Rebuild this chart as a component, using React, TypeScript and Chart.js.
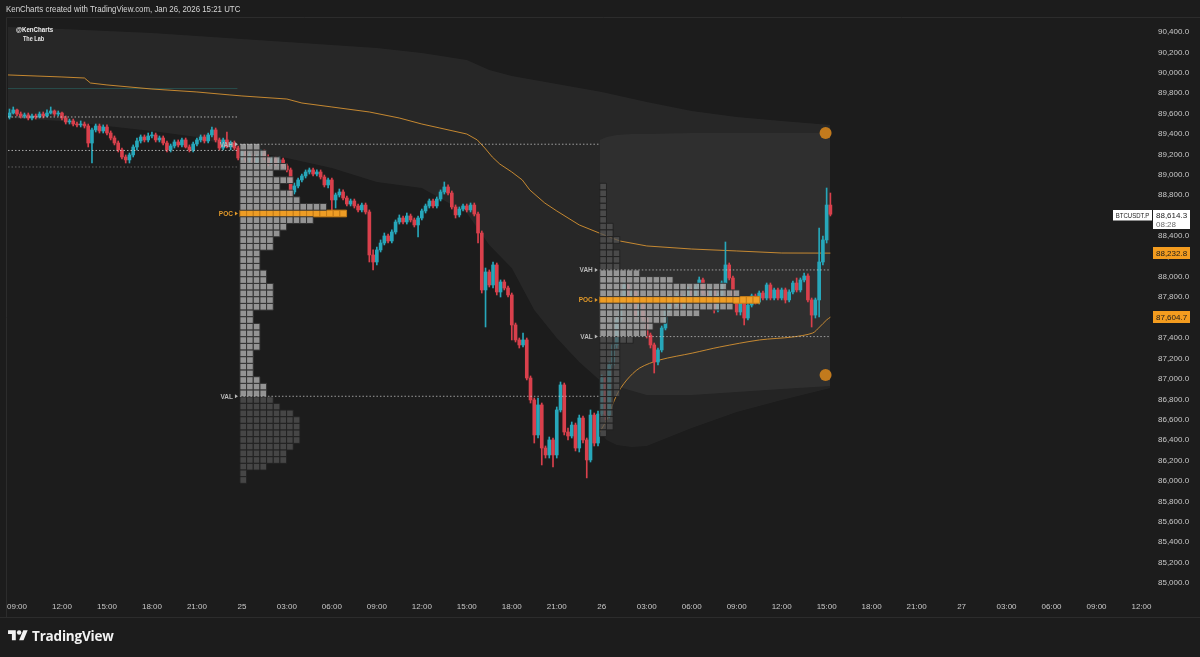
import React, { useEffect, useRef } from "react";
import { Chart, registerables } from "chart.js";

Chart.register(...registerables);

// ---------- axes (time in hours since Jan 24 2026 09:00 UTC) ----------
const X_MIN = -0.6;
const X_MAX = 75.7;
const xTickValues = [0, 3, 6, 9, 12, 15, 18, 21, 24, 27, 30, 33, 36, 39, 42, 45, 48, 51, 54, 57, 60, 63, 66, 69, 72, 75];
const xTickLabels = ["09:00", "12:00", "15:00", "18:00", "21:00", "25", "03:00", "06:00", "09:00", "12:00", "15:00", "18:00", "21:00", "26", "03:00", "06:00", "09:00", "12:00", "15:00", "18:00", "21:00", "27", "03:00", "06:00", "09:00", "12:00"];

const Y_MIN = 84863;
const Y_MAX = 90537;
const yTickValues = [85000, 85200, 85400, 85600, 85800, 86000, 86200, 86400, 86600, 86800, 87000, 87200, 87400, 87600, 87800, 88000, 88200, 88400, 88600, 88800, 89000, 89200, 89400, 89600, 89800, 90000, 90200, 90400];

// ---------- 15-minute candles ----------
const CANDLE_START = -0.5;
const CANDLE_STEP = 0.25;
const FIRST_OPEN = 89567;
const closes = [
  89606, 89636, 89596, 89577, 89587, 89557, 89577, 89567, 89596, 89577,
  89606, 89626, 89596, 89606, 89557, 89518, 89528, 89498, 89489, 89498,
  89479, 89312, 89440, 89479, 89430, 89469, 89410, 89361, 89312, 89244,
  89175, 89146, 89195, 89273, 89332, 89371, 89342, 89381, 89391, 89342,
  89361, 89312, 89244, 89283, 89322, 89293, 89342, 89273, 89244, 89302,
  89342, 89371, 89332, 89391, 89440, 89342, 89263, 89342, 89273, 89312,
  89263, 89165, 89224, 89146, 89195, 89126, 89175, 89214, 89165, 89116,
  89155, 89106, 89146, 89087, 89048, 88832, 88891, 88950, 88989, 89028,
  89048, 89008, 89028, 88979, 88901, 88950, 88754, 88803, 88832, 88773,
  88714, 88744, 88695, 88656, 88704, 88636, 88215, 88146, 88264, 88332,
  88401, 88352, 88440, 88538, 88577, 88538, 88597, 88558, 88509, 88577,
  88646, 88695, 88744, 88695, 88763, 88832, 88881, 88822, 88685, 88607,
  88665, 88695, 88656, 88704, 88616, 88430, 87872, 88048, 87921, 88117,
  87852, 87950, 87891, 87823, 87529, 87382, 87333, 87382, 87009, 86794,
  86451, 86745, 86323, 86255, 86402, 86255, 86696, 86941, 86480, 86441,
  86548, 86323, 86617, 86402, 86206, 86646, 86372, 86656, 87009, 86646,
  87137, 87333, 87578, 87774, 87921, 87774, 87852, 87626, 87724, 87597,
  87430, 87333, 87166, 87284, 87499, 87676, 87793, 87724, 87813, 87695,
  87803, 87872, 87793, 87901, 87970, 87842, 87793, 87872, 87676, 87823,
  87940, 88117, 87989, 87774, 87656, 87744, 87597, 87724, 87813, 87754,
  87842, 87793, 87921, 87793, 87872, 87793, 87872, 87774, 87852, 87940,
  87872, 87970, 88009, 87774, 87626, 87774, 88146, 88362, 88704, 88614,
];
const highs = [
  89645, 89665, 89645, 89616, 89606, 89606, 89596, 89596, 89616, 89616,
  89636, 89665, 89636, 89626, 89616, 89577, 89547, 89547, 89518, 89528,
  89518, 89498, 89459, 89498, 89498, 89489, 89489, 89430, 89381, 89332,
  89263, 89195, 89214, 89293, 89361, 89391, 89391, 89410, 89420, 89410,
  89381, 89381, 89332, 89302, 89342, 89342, 89361, 89361, 89293, 89322,
  89361, 89391, 89391, 89410, 89469, 89459, 89361, 89361, 89420, 89332,
  89332, 89283, 89244, 89244, 89214, 89214, 89195, 89244, 89244, 89195,
  89175, 89175, 89175, 89165, 89106, 89067, 88920, 88969, 89008, 89048,
  89067, 89067, 89048, 89048, 88998, 88969, 88969, 88822, 88861, 88852,
  88793, 88763, 88763, 88714, 88724, 88724, 88656, 88264, 88293, 88362,
  88430, 88420, 88460, 88558, 88607, 88597, 88626, 88616, 88577, 88597,
  88665, 88714, 88763, 88763, 88783, 88852, 88930, 88901, 88842, 88705,
  88685, 88714, 88714, 88724, 88724, 88636, 88450, 88087, 88068, 88146,
  88136, 87970, 87970, 87911, 87842, 87548, 87401, 87450, 87401, 87029,
  86813, 86813, 86764, 86343, 86431, 86421, 86725, 86970, 86960, 86519,
  86578, 86568, 86646, 86637, 86421, 86696, 86666, 86686, 87039, 87029,
  87166, 87362, 87607, 87842, 87950, 87940, 87872, 87872, 87754, 87744,
  87617, 87450, 87352, 87303, 87519, 87695, 87823, 87813, 87842, 87832,
  87823, 87901, 87891, 87921, 87999, 87989, 87862, 87891, 87891, 87842,
  87960, 88342, 88136, 88009, 87793, 87774, 87764, 87754, 87832, 87832,
  87862, 87862, 87940, 87940, 87891, 87891, 87891, 87891, 87872, 87960,
  87989, 87989, 88038, 88029, 87793, 87793, 88479, 88401, 88871, 88822,
];
const lows = [
  89547, 89596, 89577, 89557, 89557, 89538, 89538, 89547, 89557, 89557,
  89567, 89596, 89577, 89577, 89538, 89498, 89498, 89479, 89469, 89469,
  89459, 89273, 89116, 89420, 89410, 89410, 89391, 89342, 89293, 89224,
  89155, 89116, 89116, 89175, 89244, 89312, 89322, 89322, 89361, 89322,
  89322, 89293, 89224, 89224, 89263, 89273, 89273, 89263, 89224, 89224,
  89283, 89322, 89312, 89312, 89371, 89322, 89244, 89244, 89263, 89244,
  89244, 89146, 89146, 89126, 89126, 89106, 89106, 89155, 89146, 89087,
  89097, 89087, 89087, 89067, 89028, 88783, 88812, 88871, 88930, 88969,
  89008, 88989, 88989, 88959, 88881, 88871, 88616, 88675, 88783, 88754,
  88695, 88695, 88675, 88636, 88636, 88616, 88146, 88068, 88117, 88244,
  88313, 88332, 88332, 88420, 88518, 88518, 88518, 88538, 88489, 88391,
  88558, 88626, 88675, 88675, 88675, 88744, 88812, 88803, 88665, 88577,
  88587, 88646, 88636, 88636, 88597, 88332, 87842, 87509, 87901, 87891,
  87823, 87803, 87872, 87803, 87382, 87362, 87303, 87313, 86990, 86764,
  86372, 86421, 86157, 86225, 86225, 86137, 86225, 86676, 86451, 86402,
  86421, 86294, 86284, 86372, 86030, 86186, 86343, 86343, 86627, 86598,
  86617, 87107, 87303, 87548, 87744, 87744, 87754, 87597, 87597, 87568,
  87401, 87303, 87058, 87137, 87264, 87480, 87656, 87695, 87705, 87676,
  87676, 87783, 87774, 87774, 87881, 87823, 87774, 87774, 87646, 87656,
  87803, 87921, 87970, 87754, 87626, 87626, 87529, 87578, 87705, 87734,
  87734, 87774, 87774, 87774, 87774, 87774, 87774, 87744, 87754, 87832,
  87852, 87852, 87950, 87754, 87509, 87597, 87607, 88117, 88332, 88597,
];

// ---------- anchored VWAPs ----------
const vwap1Times = [-0.6, 3, 4.5, 4.9, 6, 9, 12, 14.2, 15, 18, 19, 21, 23.5, 25.5, 27, 28.2, 30, 30.7, 31.2, 31.7, 32.2, 33, 33.7, 34.2, 35.2, 36, 37.5, 39, 40.2, 42, 45, 48, 51, 54.25];
const vwap1Values = [89979, 89959, 89949, 89900, 89881, 89841, 89812, 89783, 89773, 89743, 89704, 89665, 89616, 89557, 89498, 89459, 89400, 89342, 89263, 89175, 89106, 89028, 88950, 88852, 88724, 88646, 88509, 88420, 88352, 88303, 88273, 88254, 88234, 88233];
const vwap2Times = [38.87, 39.33, 40, 40.67, 41.53, 42.87, 45.07, 46.87, 49.53, 51.73, 53.07, 53.53, 54, 54.25];
const vwap2Values = [86480, 86598, 86843, 86990, 87107, 87186, 87254, 87313, 87382, 87411, 87450, 87509, 87578, 87605];

// ---------- deviation bands ----------
const band1Times = [-0.6, 3, 6, 9, 12, 15, 18, 21, 24, 27, 30, 31.5, 33, 34.5, 36, 37.5, 39, 42, 45, 48, 51, 54.25];
const band1Upper = [90449, 90429, 90410, 90390, 90361, 90331, 90302, 90273, 90243, 90194, 90126, 90028, 89969, 89930, 89890, 89851, 89812, 89714, 89626, 89567, 89528, 89489];
const band1Lower = [89557, 89528, 89479, 89430, 89371, 89244, 89165, 89067, 88930, 88871, 88626, 88313, 88087, 87676, 87401, 87166, 86970, 86843, 86843, 86872, 86902, 86931];
const band2Times = [38.87, 39.33, 40, 41, 42, 45, 48, 51, 54.25];
const band2Upper = [89342, 89371, 89391, 89400, 89400, 89410, 89410, 89410, 89410];
const band2Lower = [86480, 86402, 86353, 86333, 86343, 86519, 86676, 86794, 86912];

// ---------- volume profiles (cells per row, top row first) ----------
const profile1Counts = [3, 4, 6, 7, 5, 8, 6, 8, 9, 13, 16, 11, 7, 6, 5, 5, 3, 3, 3, 4, 4, 5, 5, 5, 5, 2, 2, 3, 3, 3, 3, 2, 2, 2, 2, 3, 4, 4, 5, 6, 8, 9, 9, 9, 9, 8, 7, 7, 4, 1, 1];
const profile2Counts = [1, 1, 1, 1, 1, 1, 2, 2, 3, 2, 3, 3, 3, 6, 11, 19, 21, 24, 20, 15, 10, 8, 7, 5, 3, 3, 3, 3, 3, 3, 3, 3, 2, 2, 2, 2, 2, 1];
const profileStarts = [14.87, 38.87];
const profileTops = [89307, 88917];
const PROFILE_ROW = 65.3;
const profileVaFirst = [0, 13];
const profileVaLast = [37, 22];
const profilePocRow = [10, 17];
const profileLabelTexts = ["VAH", "POC", "VAL", "VAH", "POC", "VAL"];
const profileLabelPrices = [89300, 88621, 86830, 88068, 87774, 87415];
const profileLabelOwner = [0, 0, 0, 1, 1, 1];

// ---------- horizontal levels ----------
const levelPrices = [89567, 89239, 89077, 89300, 86830, 88068, 87415];
const levelStarts = [-0.6, -0.6, -0.6, 14.87, 14.87, 38.87, 38.87];
const levelEnds = [14.75, 14.75, 14.75, 38.87, 38.87, 54.25, 54.25];
const tealLevelPrice = 89846;
const tealLevelSpan = [-0.6, 14.7];

// ---------- markers and tags ----------
const markerTimes = [53.93, 53.93];
const markerPrices = [89410, 87039];
const SYMBOL = "BTCUSDT.P";
const LAST_PRICE = 88614.3;
const COUNTDOWN = "08:28";
const vwapTagValues = [88232.8, 87604.7];

// ---------- styles ----------
const BG = "#1c1c1c";
const UP = "#27a7ba";
const DOWN = "#d9404c";
const ORANGE_LINE = "rgba(214,146,50,0.9)";
const AXIS_TEXT = "#c8c8c8";
const levelColors = ["rgba(215,215,215,0.75)", "rgba(215,215,215,0.75)", "rgba(150,150,150,0.55)", "rgba(210,210,210,0.7)", "rgba(210,210,210,0.7)", "rgba(210,210,210,0.7)", "rgba(210,210,210,0.7)"];
const CELL_HOURS = 0.4444;
const CELL_RADIUS = 4.72;

const fmt = (v: number) => v.toLocaleString("en-US", { minimumFractionDigits: 1, maximumFractionDigits: 1 });

function buildCells(pi: number, counts: number[]) {
  const light: any[] = [];
  const dark: any[] = [];
  const poc: any[] = [];
  counts.forEach((n, r) => {
    const y = profileTops[pi] - (r + 0.5) * PROFILE_ROW;
    for (let k = 0; k < n; k++) {
      const pt = { x: profileStarts[pi] + (k + 0.5) * CELL_HOURS, y };
      if (r === profilePocRow[pi]) poc.push(pt);
      else if (r >= profileVaFirst[pi] && r <= profileVaLast[pi]) light.push(pt);
      else dark.push(pt);
    }
  });
  return { light, dark, poc };
}

const overlayPlugin = {
  id: "overlay",
  afterDraw(chart: any) {
    const { ctx, chartArea } = chart;
    const xs = chart.scales.x;
    const ys = chart.scales.y;
    ctx.save();
    // frame lines
    ctx.strokeStyle = "#2c2c2c";
    ctx.lineWidth = 1;
    ctx.beginPath();
    ctx.moveTo(6.5, 17.5);
    ctx.lineTo(1200, 17.5);
    ctx.moveTo(6.5, 17.5);
    ctx.lineTo(6.5, 617.5);
    ctx.moveTo(0, 617.5);
    ctx.lineTo(1200, 617.5);
    ctx.stroke();

    // profile labels
    ctx.font = "bold 6.5px 'Liberation Sans', Arial, sans-serif";
    ctx.textBaseline = "middle";
    ctx.textAlign = "right";
    profileLabelTexts.forEach((t, i) => {
      const xr = xs.getPixelForValue(profileStarts[profileLabelOwner[i]]) - 2;
      const y = ys.getPixelForValue(profileLabelPrices[i]);
      const col = t === "POC" ? "#e39a2a" : "#b9b9b9";
      ctx.fillStyle = col;
      ctx.fillText(t, xr - 5, y + 0.5);
      ctx.beginPath();
      ctx.moveTo(xr - 3, y - 2);
      ctx.lineTo(xr, y);
      ctx.lineTo(xr - 3, y + 2);
      ctx.closePath();
      ctx.fill();
    });

    // right price scale tags
    const axL = chartArea.right + 1;
    ctx.textAlign = "left";
    ctx.font = "8px 'Liberation Sans', Arial, sans-serif";
    vwapTagValues.forEach((v) => {
      const y = ys.getPixelForValue(v);
      ctx.fillStyle = "#f39c1f";
      ctx.fillRect(axL, Math.round(y) - 6, 37, 12);
      ctx.fillStyle = "#1b1b1b";
      ctx.fillText(fmt(v), axL + 3, y + 0.5);
    });
    const yl = ys.getPixelForValue(LAST_PRICE);
    ctx.fillStyle = "#ffffff";
    ctx.fillRect(axL, Math.round(yl) - 4, 37, 19);
    ctx.fillRect(chartArea.right - 39, Math.round(yl) - 4, 39, 10.5);
    ctx.fillStyle = "#1b1b1b";
    ctx.fillText(fmt(LAST_PRICE), axL + 3, yl + 1.5);
    ctx.fillStyle = "#6b6b6b";
    ctx.fillText(COUNTDOWN, axL + 3, yl + 10.5);
    ctx.fillStyle = "#1b1b1b";
    ctx.font = "7.5px 'Liberation Sans', Arial, sans-serif";
    ctx.textAlign = "center";
    ctx.translate(chartArea.right - 19.5, yl + 1.5);
    ctx.scale(0.8, 1);
    ctx.fillText(SYMBOL, 0, 0);
    ctx.restore();
  },
};

export default function App() {
  const ref = useRef<HTMLCanvasElement | null>(null);

  useEffect(() => {
    document.body.style.margin = "0";
    document.body.style.background = BG;
    const canvas = ref.current;
    if (!canvas) return;

    const times = closes.map((_, i) => CANDLE_START + i * CANDLE_STEP);
    const opens = closes.map((_, i) => (i === 0 ? FIRST_OPEN : closes[i - 1]));
    const colors = closes.map((c, i) => (c >= opens[i] ? UP : DOWN));

    const p1 = buildCells(0, profile1Counts);
    const p2 = buildCells(1, profile2Counts);
    const line = (ts: number[], vs: number[]) => ts.map((t, i) => ({ x: t, y: vs[i] }));

    const cellSet = (data: any[], bg: string, border: string) => ({
      type: "scatter",
      data,
      pointStyle: "rect",
      pointRadius: CELL_RADIUS,
      pointHoverRadius: CELL_RADIUS,
      backgroundColor: bg,
      borderColor: border,
      borderWidth: 1,
      order: 30,
    });

    const levelSets = levelPrices.map((p, i) => ({
      type: "line",
      data: [
        { x: levelStarts[i], y: p },
        { x: levelEnds[i], y: p },
      ],
      borderColor: levelColors[i],
      borderWidth: 1,
      borderDash: [1.5, 2],
      pointRadius: 0,
      fill: false,
      order: 25,
    }));

    const chart = new Chart(canvas, {
      type: "bar",
      data: {
        datasets: [
          {
            type: "line",
            data: line(band1Times, band1Upper),
            borderWidth: 0,
            pointRadius: 0,
            backgroundColor: "rgba(255,255,255,0.05)",
            fill: "+1",
            order: 100,
          },
          {
            type: "line",
            data: line(band1Times, band1Lower),
            borderWidth: 0,
            pointRadius: 0,
            fill: false,
            order: 100,
          },
          {
            type: "line",
            data: line(band2Times, band2Upper),
            borderWidth: 0,
            pointRadius: 0,
            backgroundColor: "rgba(255,255,255,0.04)",
            fill: "+1",
            order: 99,
          },
          {
            type: "line",
            data: line(band2Times, band2Lower),
            borderWidth: 0,
            pointRadius: 0,
            fill: false,
            order: 99,
          },
          {
            type: "line",
            data: [
              { x: tealLevelSpan[0], y: tealLevelPrice },
              { x: tealLevelSpan[1], y: tealLevelPrice },
            ],
            borderColor: "rgba(40,120,118,0.45)",
            borderWidth: 1,
            pointRadius: 0,
            fill: false,
            order: 60,
          },
          {
            type: "line",
            data: line(vwap1Times, vwap1Values),
            borderColor: ORANGE_LINE,
            borderWidth: 1,
            pointRadius: 0,
            tension: 0,
            fill: false,
            order: 50,
          },
          {
            type: "line",
            data: line(vwap2Times, vwap2Values),
            borderColor: ORANGE_LINE,
            borderWidth: 1,
            pointRadius: 0,
            tension: 0.3,
            fill: false,
            order: 50,
          },
          {
            type: "bar",
            data: times.map((t, i) => ({ x: t, y: [lows[i], highs[i]] })),
            backgroundColor: colors,
            barThickness: 1,
            grouped: false,
            order: 41,
          },
          {
            type: "bar",
            data: times.map((t, i) => ({ x: t, y: [opens[i], closes[i]] })),
            backgroundColor: colors,
            barThickness: 3,
            minBarLength: 1,
            grouped: false,
            order: 40,
          },
          cellSet(p1.light, "rgba(168,168,168,0.86)", "rgba(48,48,48,0.95)"),
          cellSet(p2.light, "rgba(168,168,168,0.86)", "rgba(48,48,48,0.95)"),
          cellSet(p1.dark, "rgba(84,84,84,0.75)", "rgba(34,34,34,0.95)"),
          cellSet(p2.dark, "rgba(84,84,84,0.75)", "rgba(34,34,34,0.95)"),
          cellSet(p1.poc, "rgba(243,160,38,0.98)", "rgba(196,124,24,1)"),
          cellSet(p2.poc, "rgba(243,160,38,0.98)", "rgba(196,124,24,1)"),
          ...levelSets,
          {
            type: "scatter",
            data: markerTimes.map((t, i) => ({ x: t, y: markerPrices[i] })),
            pointRadius: 6,
            pointHoverRadius: 6,
            backgroundColor: "#c27a1d",
            borderWidth: 0,
            order: 5,
          },
        ] as any,
      },
      options: {
        responsive: false,
        animation: false,
        events: [],
        layout: { padding: { left: 8, top: 18, right: 0, bottom: 40 } },
        plugins: {
          legend: { display: false },
          tooltip: { enabled: false },
        },
        scales: {
          x: {
            type: "linear",
            min: X_MIN,
            max: X_MAX,
            offset: false,
            grid: { display: false, drawTicks: false },
            border: { display: false },
            afterBuildTicks: (s: any) => {
              s.ticks = xTickValues.map((v) => ({ value: v }));
            },
            afterFit: (s: any) => {
              s.height = 20;
            },
            ticks: {
              autoSkip: false,
              maxRotation: 0,
              padding: 5,
              color: AXIS_TEXT,
              font: { family: "'Liberation Sans', Arial, sans-serif", size: 8 },
              callback: (v: any) => {
                const i = xTickValues.indexOf(Number(v));
                return i >= 0 ? xTickLabels[i] : "";
              },
            },
          },
          y: {
            type: "linear",
            position: "right",
            min: Y_MIN,
            max: Y_MAX,
            grid: { display: false, drawTicks: false },
            border: { display: false },
            afterBuildTicks: (s: any) => {
              s.ticks = yTickValues.map((v) => ({ value: v }));
            },
            afterFit: (s: any) => {
              s.width = 48;
            },
            ticks: {
              autoSkip: false,
              padding: 6,
              color: AXIS_TEXT,
              font: { family: "'Liberation Sans', Arial, sans-serif", size: 8 },
              callback: (v: any) => fmt(Number(v)),
            },
          },
        },
      },
      plugins: [overlayPlugin],
    } as any);

    return () => chart.destroy();
  }, []);

  return (
    <div
      style={{
        position: "fixed",
        left: 0,
        top: 0,
        width: 1200,
        height: 657,
        background: BG,
        overflow: "hidden",
        fontFamily: "'Liberation Sans', Arial, sans-serif",
      }}
    >
      <canvas ref={ref} width={1200} height={657} style={{ position: "absolute", left: 0, top: 0, display: "block" }} />
      <div
        style={{
          position: "absolute",
          left: 6,
          top: 3,
          fontSize: 9.5,
          lineHeight: "11px",
          color: "#d6d6d6",
          whiteSpace: "nowrap",
          transform: "scaleX(0.83)",
          transformOrigin: "left top",
        }}
      >
        KenCharts created with TradingView.com, Jan 26, 2026 15:21 UTC
      </div>
      <div
        style={{
          position: "absolute",
          left: 16,
          top: 25,
          fontSize: 7.5,
          fontWeight: 700,
          lineHeight: "9px",
          color: "#f0f0f0",
          whiteSpace: "nowrap",
          transform: "scaleX(0.82)",
          transformOrigin: "left top",
        }}
      >
        @KenCharts
      </div>
      <div
        style={{
          position: "absolute",
          left: 23,
          top: 35,
          fontSize: 6.5,
          fontWeight: 700,
          lineHeight: "8px",
          color: "#e6e6e6",
          whiteSpace: "nowrap",
          transform: "scaleX(0.85)",
          transformOrigin: "left top",
        }}
      >
        The Lab
      </div>
      <svg style={{ position: "absolute", left: 8, top: 628 }} width={20} height={15.5} viewBox="0 0 36 28">
        <path d="M14 22H7V11H0V4h14v18zM28 22h-8l7.5-18h8L28 22z" fill="#f2f2f2" />
        <circle cx={20} cy={8} r={4} fill="#f2f2f2" />
      </svg>
      <div
        style={{
          position: "absolute",
          left: 32,
          top: 626,
          fontSize: 15,
          fontWeight: 700,
          lineHeight: "19px",
          color: "#f2f2f2",
          whiteSpace: "nowrap",
          letterSpacing: -0.2,
          fontFamily: "'Open Sans', 'Liberation Sans', sans-serif",
          transform: "scaleX(0.9)",
          transformOrigin: "left top",
        }}
      >
        TradingView
      </div>
    </div>
  );
}
